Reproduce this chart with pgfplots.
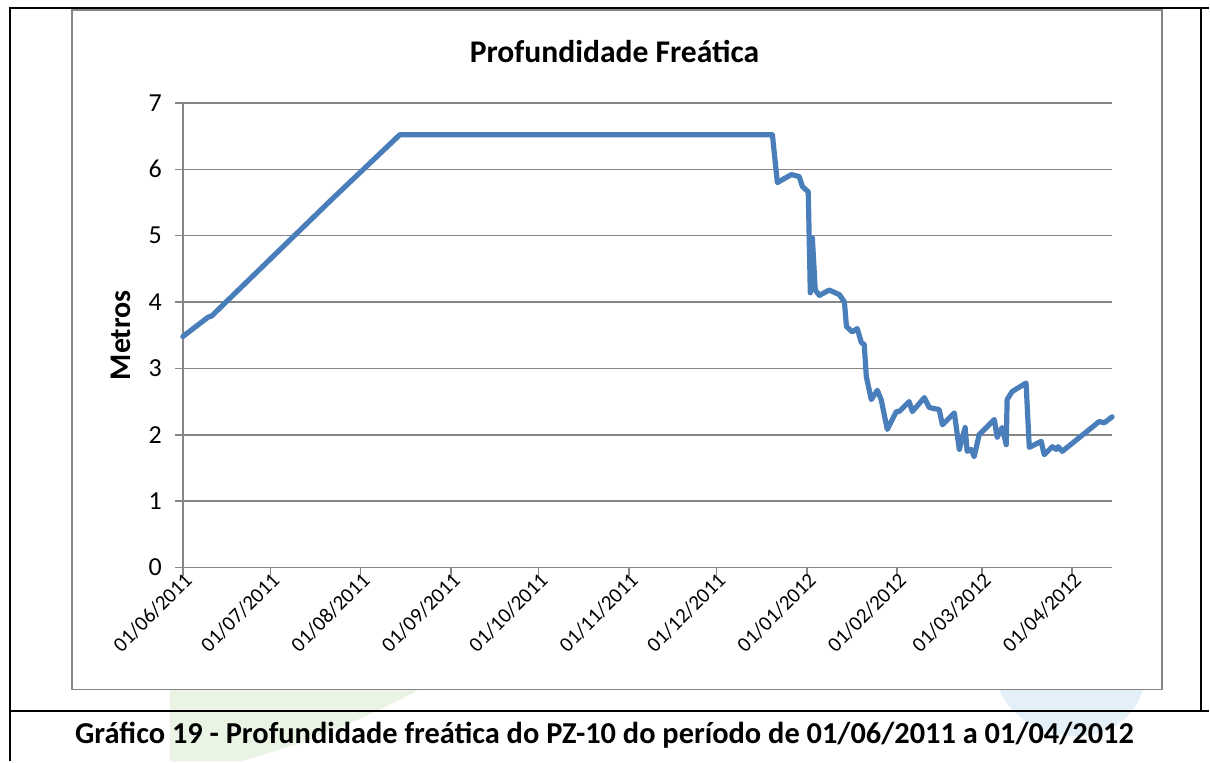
\documentclass[border=0pt]{standalone}
\usepackage{fontspec}
\setmainfont{Carlito}
\usepackage{pgfplots}
\pgfplotsset{compat=1.18}
\definecolor{lineblue}{HTML}{4A7EBB}
\definecolor{gridgray}{HTML}{868686}
\definecolor{wmgreen}{HTML}{EAF4E4}
\definecolor{wmblue}{HTML}{E3F0F8}
\begin{document}
\begin{tikzpicture}
\fill[white] (0pt,0pt) rectangle (605pt,381pt);
% faint watermark shapes
\fill[wmgreen] (85pt,0pt) -- (85pt,36pt) -- (210pt,36pt) .. controls (180pt,20pt) and (150pt,8pt) .. (120pt,0pt) -- cycle;
\fill[wmblue] (500pt,36pt) .. controls (510pt,10pt) and (560pt,0pt) .. (572pt,36pt) -- cycle;
% document frame
\draw[line width=1pt] (5pt,0pt) -- (5pt,377pt) -- (605pt,377pt);
\draw[line width=1pt] (601pt,377pt) -- (601pt,25pt);
\draw[line width=1pt] (5pt,25pt) -- (605pt,25pt);
% chart frame
\draw[gridgray, line width=0.8pt] (36pt,36pt) rectangle (581.5pt,376pt);
\node at (307.5pt,355pt) {\fontsize{15.8}{18}\selectfont\bfseries Profundidade Freática};
\node at (302.5pt,13pt) {\fontsize{15.2}{18}\selectfont\bfseries Gráfico 19 - Profundidade freática do PZ-10 do período de 01/06/2011 a 01/04/2012};
\begin{axis}[
  at={(91.5pt,97pt)}, anchor=south west, scale only axis,
  width=465pt, height=232.5pt,
  xmin=0, xmax=318.7, ymin=0, ymax=7,
  ytick={0,1,2,3,4,5,6,7},
  xtick={0,30,61,92,122,153,183,214,245,274,305},
  xticklabels={01/06/2011,01/07/2011,01/08/2011,01/09/2011,01/10/2011,01/11/2011,01/12/2011,01/01/2012,01/02/2012,01/03/2012,01/04/2012},
  ymajorgrids, grid style={gridgray, line width=0.75pt},
  axis x line*=bottom, axis y line*=left,
  axis line style={gridgray, line width=0.75pt, -},
  tick style={gridgray, line width=0.75pt},
  tick align=outside, major tick length=4pt,
  /pgf/number format/assume math mode=true,
  yticklabel style={font=\fontsize{13}{15}\selectfont, xshift=-3pt},
  xticklabel style={font=\fontsize{10.5}{12}\selectfont, rotate=45, anchor=north east, xshift=5pt, yshift=5pt},
  ylabel={\bfseries Metros},
  ylabel style={font=\fontsize{15}{17}\selectfont, yshift=2pt},
  clip=false,
]
\addplot[lineblue, line width=2.6pt, line join=round, line cap=round] coordinates {
(0,3.48) (8.6,3.77) (9.9,3.79) (12.7,3.91) (51.4,5.56) (74.4,6.52)
(188.5,6.52) (202.2,6.52) (203.9,5.80) (208.7,5.92) (211.4,5.89) (212.5,5.74) (214.5,5.66)
(215.2,4.14) (215.9,4.97) (216.9,4.18) (218.3,4.10) (221.7,4.18) (225.2,4.11) (226.9,4.00)
(227.6,3.63) (229.6,3.55) (231.3,3.60) (232.7,3.39) (233.7,3.36) (234.4,2.88) (236.1,2.53)
(238.2,2.67) (239.5,2.53) (241.6,2.08) (244.7,2.35) (245.7,2.35) (249.1,2.50) (250.2,2.35)
(254.3,2.56) (256.0,2.41) (259.4,2.38) (260.5,2.15) (264.6,2.33) (266.3,1.78) (268.3,2.11)
(269.0,1.75) (270.4,1.78) (271.4,1.67) (273.1,2.00) (278.3,2.23) (279.3,1.96) (281.0,2.11)
(282.4,1.85) (282.7,2.53) (284.4,2.65) (289.2,2.78) (290.3,1.81) (294.4,1.90) (295.4,1.70)
(298.2,1.82) (299.5,1.78) (300.2,1.82) (301.6,1.75) (314.3,2.20) (316.0,2.18) (318.7,2.27)
};
\end{axis}
\end{tikzpicture}
\end{document}
